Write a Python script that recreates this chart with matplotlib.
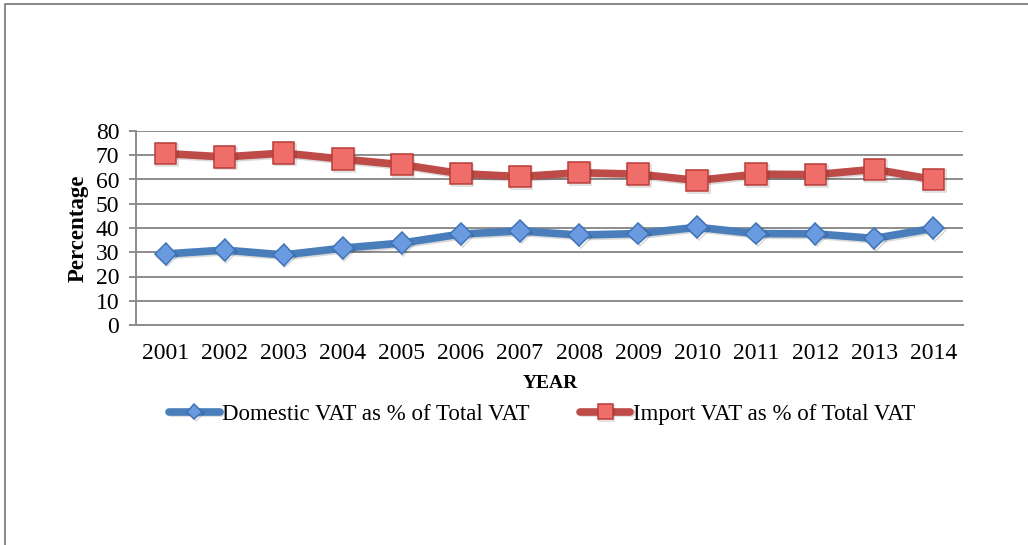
import matplotlib
matplotlib.use("Agg")
import matplotlib.pyplot as plt
from matplotlib.lines import Line2D
import matplotlib.patheffects as pe

years = ["2001", "2002", "2003", "2004", "2005", "2006", "2007",
         "2008", "2009", "2010", "2011", "2012", "2013", "2014"]
domestic = [29.3, 30.9, 28.9, 31.7, 33.8, 37.5, 38.8, 37.1, 37.7, 40.3, 37.7, 37.6, 35.7, 39.9]
imports = [70.7, 69.3, 70.9, 68.4, 66.1, 62.4, 61.2, 62.8, 62.2, 59.6, 62.2, 62.0, 64.2, 60.0]
yticks = [0, 10, 20, 30, 40, 50, 60, 70, 80]

plt.rcParams['font.family'] = ['Liberation Serif', 'DejaVu Serif']

W, H = 1028, 545
fig = plt.figure(figsize=(W / 100, H / 100), dpi=100)

# outer frame (top and left edges visible)
fig.add_artist(Line2D([5 / W, 5 / W, 1.0], [0.0, 1 - 4 / H, 1 - 4 / H],
                      transform=fig.transFigure, color="#7f7f7f", lw=1.3))

ax = fig.add_axes([136 / W, 1 - 325 / H, (963 - 136) / W, (325 - 131) / H])

x = list(range(len(years)))
shadow = [pe.SimpleLineShadow(offset=(1.2, -1.2), alpha=0.15), pe.Normal()]
ax.plot(x, domestic, color="#4a7ebb", lw=5.5, marker="D", markersize=11,
        markerfacecolor="#6a9be0", markeredgecolor="#3f73b8", markeredgewidth=1.1,
        solid_capstyle="round", zorder=3, label="Domestic VAT as % of Total VAT",
        path_effects=shadow)
ax.plot(x, imports, color="#be4b48", lw=5.5, marker="s", markersize=15.5,
        markerfacecolor="#ef6e6a", markeredgecolor="#b83c38", markeredgewidth=1.1,
        solid_capstyle="round", zorder=3, label="Import VAT as % of Total VAT",
        path_effects=shadow)

ax.set_xlim(-0.5, len(years) - 0.5)
ax.set_ylim(0, 80)
ax.set_yticks(yticks)
ax.set_xticks(x)
ax.set_xticklabels(years)
ax.yaxis.grid(True, color="#8c8c8c", lw=1.4)
ax.set_axisbelow(True)
for s in ["top", "right"]:
    ax.spines[s].set_visible(False)
for s in ["left", "bottom"]:
    ax.spines[s].set_color("#8c8c8c")
    ax.spines[s].set_linewidth(1.4)
ax.tick_params(axis="y", length=5, width=1.4, color="#8c8c8c", pad=7, labelsize=17)
ax.tick_params(axis="x", length=0, pad=13, labelsize=17)

ax.set_ylabel("Percentage", fontsize=16.5, fontweight="bold", labelpad=5)
fig.text(550 / W, 1 - 384 / H, "YEAR", ha="center", va="center",
         fontsize=14, fontweight="bold")

leg = fig.legend(loc="center", bbox_to_anchor=(542 / W, 1 - 414 / H), ncol=2,
                 frameon=False, fontsize=16.5, handlelength=2.2, handletextpad=0.1,
                 columnspacing=2.2, markerscale=0.7)

fig.savefig("out.png", dpi=100)
